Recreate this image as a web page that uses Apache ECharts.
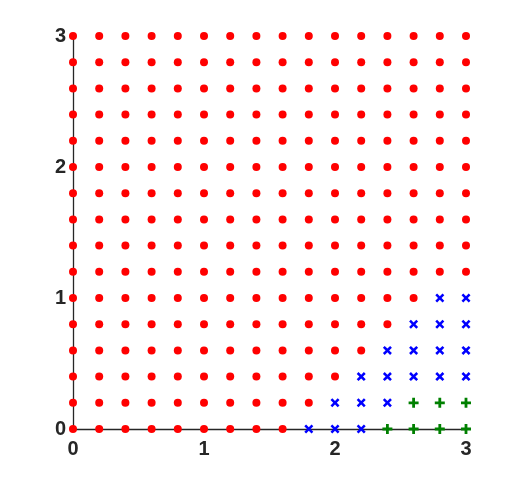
<!DOCTYPE html>
<html>
<head>
<meta charset="utf-8">
<script src="https://cdn.jsdelivr.net/npm/echarts@6/dist/echarts.min.js"></script>
<style>html,body{margin:0;padding:0;background:#fff;}#c{width:522px;height:482px;}</style>
</head>
<body>
<div id="c"></div>
<script>
const tickValues = [0, 1, 2, 3];
const rowYs = [0, 0.2, 0.4, 0.6, 0.8, 1.0, 1.2, 1.4, 1.6, 1.8, 2.0, 2.2, 2.4, 2.6, 2.8, 3.0];
const fullRowX = [0, 0.2, 0.4, 0.6, 0.8, 1.0, 1.2, 1.4, 1.6, 1.8, 2.0, 2.2, 2.4, 2.6, 2.8, 3.0];
const redRowX0 = [0, 0.2, 0.4, 0.6, 0.8, 1.0, 1.2, 1.4, 1.6];
const redRowX1 = [0, 0.2, 0.4, 0.6, 0.8, 1.0, 1.2, 1.4, 1.6, 1.8];
const redRowX2 = [0, 0.2, 0.4, 0.6, 0.8, 1.0, 1.2, 1.4, 1.6, 1.8, 2.0];
const redRowX3 = [0, 0.2, 0.4, 0.6, 0.8, 1.0, 1.2, 1.4, 1.6, 1.8, 2.0, 2.2];
const redRowX4 = [0, 0.2, 0.4, 0.6, 0.8, 1.0, 1.2, 1.4, 1.6, 1.8, 2.0, 2.2, 2.4];
const redRowX5 = [0, 0.2, 0.4, 0.6, 0.8, 1.0, 1.2, 1.4, 1.6, 1.8, 2.0, 2.2, 2.4, 2.6];
const redRows = [redRowX0, redRowX1, redRowX2, redRowX3, redRowX4, redRowX5,
  fullRowX, fullRowX, fullRowX, fullRowX, fullRowX, fullRowX, fullRowX, fullRowX, fullRowX, fullRowX];
const bluePoints = [
  [1.8, 0], [2.0, 0], [2.2, 0],
  [2.0, 0.2], [2.2, 0.2], [2.4, 0.2],
  [2.2, 0.4], [2.4, 0.4], [2.6, 0.4], [2.8, 0.4], [3.0, 0.4],
  [2.4, 0.6], [2.6, 0.6], [2.8, 0.6], [3.0, 0.6],
  [2.6, 0.8], [2.8, 0.8], [3.0, 0.8],
  [2.8, 1.0], [3.0, 1.0]
];
const greenPoints = [
  [2.4, 0], [2.6, 0], [2.8, 0], [3.0, 0],
  [2.6, 0.2], [2.8, 0.2], [3.0, 0.2]
];

const redPoints = [];
rowYs.forEach((y, i) => redRows[i].forEach(x => redPoints.push([x, y])));

const xSym = 'path://M0,2L2,0L5,3L8,0L10,2L7,5L10,8L8,10L5,7L2,10L0,8L3,5Z';
const plusSym = 'path://M3.6,0H6.4V3.6H10V6.4H6.4V10H3.6V6.4H0V3.6H3.6Z';

const labelStyle = { color: '#262626', fontSize: 20, fontWeight: 'bold', fontFamily: 'Liberation Sans, Arial, sans-serif' };
const chart = echarts.init(document.getElementById('c'), null, { renderer: 'canvas' });
chart.setOption({
  animation: false,
  backgroundColor: '#fff',
  grid: { left: 73, top: 36, right: 56, bottom: 53, containLabel: false },
  xAxis: {
    type: 'value', min: 0, max: 3, interval: 1,
    splitLine: { show: false },
    axisTick: { show: false },
    axisLine: { show: true, lineStyle: { color: '#262626', width: 1.3 } },
    axisLabel: Object.assign({ margin: 10, formatter: v => tickValues.includes(v) ? String(v) : '' }, labelStyle)
  },
  yAxis: {
    type: 'value', min: 0, max: 3, interval: 1,
    splitLine: { show: false },
    axisTick: { show: false },
    axisLine: { show: true, lineStyle: { color: '#262626', width: 1.3 } },
    axisLabel: Object.assign({ margin: 7, formatter: v => tickValues.includes(v) ? String(v) : '' }, labelStyle)
  },
  series: [
    { type: 'scatter', data: redPoints, symbol: 'circle', symbolSize: 8, clip: false,
      itemStyle: { color: '#ff0000', opacity: 1 } },
    { type: 'scatter', data: bluePoints, symbol: xSym, symbolSize: 9, clip: false,
      itemStyle: { color: '#0000ff', opacity: 1 } },
    { type: 'scatter', data: greenPoints, symbol: plusSym, symbolSize: 10, clip: false,
      itemStyle: { color: '#008000', opacity: 1 } }
  ]
});
</script>
</body>
</html>
